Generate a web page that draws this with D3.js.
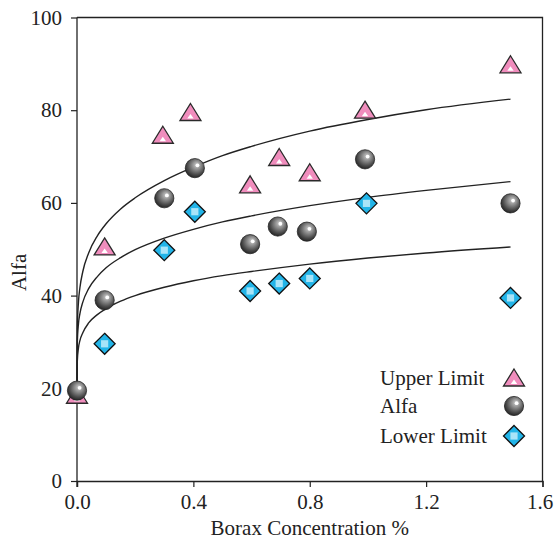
<!DOCTYPE html>
<html>
<head>
<meta charset="utf-8">
<script src="https://cdn.jsdelivr.net/npm/d3@7"></script>
<style>
  html, body { margin: 0; padding: 0; background: #fff; }
  text { font-family: "Liberation Serif", "Times New Roman", serif; fill: #222; }
</style>
</head>
<body>
<div id="chart"></div>
<script>
// measured points (x = borax %, y = alfa)
var upperX = [0, 0.095, 0.295, 0.39, 0.595, 0.695, 0.8, 0.99, 1.49];
var upperY = [18.5, 50.5, 74.6, 79.5, 63.9, 69.8, 66.5, 80.0, 89.8];
var alfaX = [0, 0.095, 0.30, 0.405, 0.595, 0.69, 0.79, 0.99, 1.49];
var alfaY = [19.5, 39.0, 61.0, 67.5, 51.1, 54.9, 53.8, 69.4, 59.9];
var lowerX = [0.095, 0.30, 0.405, 0.595, 0.695, 0.8, 0.995, 1.49];
var lowerY = [29.6, 49.8, 58.1, 41.0, 42.6, 43.7, 59.9, 39.5];

// trend curves
var curveX = [0, 0.001, 0.005, 0.01, 0.02, 0.04, 0.07, 0.1, 0.15, 0.2, 0.3, 0.4, 0.5, 0.6, 0.8, 1.0, 1.2, 1.49];
var upperFit = [18.5, 32.9, 38.6, 41.7, 45.2, 49.2, 52.9, 55.5, 58.7, 61.1, 64.8, 67.7, 70.2, 72.2, 75.5, 78.0, 80.1, 82.4];
var alfaFit = [18.5, 29.7, 33.9, 36.1, 38.6, 41.5, 44.1, 46.0, 48.2, 49.9, 52.4, 54.3, 55.9, 57.2, 59.4, 61.2, 62.7, 64.6];
var lowerFit = [18.5, 25.8, 28.7, 30.3, 32.0, 34.1, 35.9, 37.2, 38.8, 40.0, 41.8, 43.2, 44.3, 45.2, 46.8, 48.1, 49.2, 50.5];

var xTicks = [0, 0.4, 0.8, 1.2, 1.6];
var yTicks = [0, 20, 40, 60, 80, 100];
var legendLabels = ['Upper Limit', 'Alfa', 'Lower Limit'];

var attrs = {
  svgWidth: 554,
  svgHeight: 540,
  marginLeft: 77,
  marginTop: 17.5,
  marginRight: 11.5,
  marginBottom: 59,
  fontSize: 21,
  ink: '#222'
};

var calc = {};
calc.chartWidth = attrs.svgWidth - attrs.marginLeft - attrs.marginRight;
calc.chartHeight = attrs.svgHeight - attrs.marginTop - attrs.marginBottom;

var zip = function (xs, ys) {
  return xs.map(function (d, i) { return { x: d, y: ys[i] }; });
};

// scales
var x = d3.scaleLinear().domain([0, 1.6]).range([0, calc.chartWidth]);
var y = d3.scaleLinear().domain([0, 100]).range([calc.chartHeight, 0]);

var svg = d3.select('#chart').append('svg')
  .attr('width', attrs.svgWidth)
  .attr('height', attrs.svgHeight);

// sphere gradient
var grad = svg.append('defs').append('radialGradient')
  .attr('id', 'ball')
  .attr('cx', '55%').attr('cy', '40%').attr('r', '60%')
  .attr('fx', '62%').attr('fy', '32%');
grad.append('stop').attr('offset', '0%').attr('stop-color', '#d0d0d0');
grad.append('stop').attr('offset', '40%').attr('stop-color', '#8a8a8a');
grad.append('stop').attr('offset', '75%').attr('stop-color', '#4c4c4c');
grad.append('stop').attr('offset', '100%').attr('stop-color', '#262626');

var chart = svg.append('g')
  .attr('transform', 'translate(' + attrs.marginLeft + ',' + attrs.marginTop + ')');

// axes
var yAxis = chart.append('g')
  .call(d3.axisLeft(y).tickValues(yTicks).tickSize(6).tickPadding(9).tickFormat(d3.format('d')));
var xAxis = chart.append('g')
  .attr('transform', 'translate(0,' + calc.chartHeight + ')')
  .call(d3.axisBottom(x).tickValues(xTicks).tickSize(6).tickPadding(7).tickFormat(d3.format('.1f')));

[xAxis, yAxis].forEach(function (ax) {
  ax.select('.domain').attr('stroke', attrs.ink).attr('stroke-width', 1.3);
  ax.selectAll('.tick line').attr('stroke', attrs.ink).attr('stroke-width', 1.2);
  ax.selectAll('.tick text')
    .attr('fill', attrs.ink)
    .style('font-family', '"Liberation Serif", serif')
    .style('font-size', attrs.fontSize + 'px');
});
yAxis.select('.domain').attr('d', 'M0,' + (calc.chartHeight + 6) + 'V0');
// keep the last x label inside the window
xAxis.selectAll('.tick text').filter(function (d) { return d === 1.6; }).attr('dx', -3);

// frame top + right
chart.append('path')
  .attr('d', 'M0,0H' + calc.chartWidth + 'V' + calc.chartHeight)
  .attr('fill', 'none')
  .attr('stroke', attrs.ink)
  .attr('stroke-width', 1.3);

// axis titles
chart.append('text')
  .attr('x', calc.chartWidth / 2)
  .attr('y', calc.chartHeight + 54)
  .attr('text-anchor', 'middle')
  .style('font-size', attrs.fontSize + 'px')
  .text('Borax Concentration %');

chart.append('text')
  .attr('transform', 'translate(' + (-51) + ',' + y(45) + ') rotate(-90)')
  .attr('text-anchor', 'middle')
  .style('font-size', attrs.fontSize + 'px')
  .text('Alfa');

// trend curves
var line = d3.line()
  .x(function (d) { return x(d.x); })
  .y(function (d) { return y(d.y); })
  .curve(d3.curveMonotoneX);

[upperFit, alfaFit, lowerFit].forEach(function (fit) {
  chart.append('path')
    .datum(zip(curveX, fit))
    .attr('d', line)
    .attr('fill', 'none')
    .attr('stroke', attrs.ink)
    .attr('stroke-width', 1.4);
});

// ##### marker painters #####
function drawTriangle(g) {
  g.append('path').attr('d', 'M0,-9L10.5,8L-10.5,8Z')
    .attr('fill', '#f08dbd').attr('stroke', '#2a2a2a').attr('stroke-width', 1.3)
    .attr('stroke-linejoin', 'miter');
  g.append('path').attr('d', 'M0,1.5L3.2,6L-3.2,6Z').attr('fill', '#fff');
}
function drawBall(g) {
  g.append('circle').attr('r', 9.6)
    .attr('fill', 'url(#ball)').attr('stroke', '#262626').attr('stroke-width', 0.8);
  g.append('circle').attr('cx', 2.6).attr('cy', -2.8).attr('r', 1.9).attr('fill', '#fff');
}
function drawDiamond(g) {
  g.append('path').attr('d', 'M0,-10.5L10.5,0L0,10.5L-10.5,0Z')
    .attr('fill', '#22b4e8').attr('stroke', '#111').attr('stroke-width', 1.3);
  g.append('rect').attr('x', -3.6).attr('y', -3.6).attr('width', 7.2).attr('height', 7.2)
    .attr('fill', '#a9e4f8');
}

function plotSeries(data, painter) {
  chart.append('g').selectAll('g')
    .data(data)
    .join('g')
    .attr('transform', function (d) { return 'translate(' + x(d.x) + ',' + y(d.y) + ')'; })
    .each(function () { painter(d3.select(this)); });
}

plotSeries(zip(lowerX, lowerY), drawDiamond);
plotSeries(zip(upperX, upperY), drawTriangle);
plotSeries(zip(alfaX, alfaY), drawBall);

// ##### legend #####
var painters = [drawTriangle, drawBall, drawDiamond];
var rowY = [378, 406, 436];
var legend = svg.append('g');
legendLabels.forEach(function (label, i) {
  var row = legend.append('g').attr('transform', 'translate(0,' + rowY[i] + ')');
  row.append('text')
    .attr('x', 380)
    .attr('dy', '0.33em')
    .style('font-size', attrs.fontSize + 'px')
    .text(label);
  painters[i](row.append('g').attr('transform', 'translate(514,0)'));
});
</script>
</body>
</html>
